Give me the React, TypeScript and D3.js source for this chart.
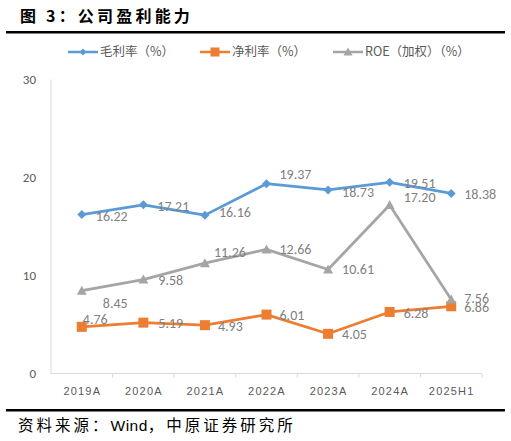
import React from "react";
import * as d3 from "d3";

const categories = ["2019A", "2020A", "2021A", "2022A", "2023A", "2024A", "2025H1"];
const grossMargin = [16.22, 17.21, 16.16, 19.37, 18.73, 19.51, 18.38];
const netMargin = [4.76, 5.19, 4.93, 6.01, 4.05, 6.28, 6.86];
const roe = [8.45, 9.58, 11.26, 12.66, 10.61, 17.2, 7.56];
const yTicks = [0, 10, 20, 30];
const seriesNames = ["毛利率（%）", "净利率（%）", "ROE（加权）（%）"];

// label placement offsets (layout only)
const grossOff = [[14, 1.5], [14, 1], [14, -3], [13, -10], [14, 2], [14, 1], [13, 1]];
const netOff = [[1, -8], [15, 0], [13, 1], [13, 0], [14, 0], [14, 1], [13, 1]];
const roeOff = [[21, 12], [15, 0], [9, -11], [13, 0], [14, 0], [14, -8], [13, -1]];

const W = 511;
const H = 441;

export default function App() {
  const x = d3.scaleBand().domain(categories).range([51, 482]);
  const y = d3.scaleLinear().domain([0, 30]).range([373.5, 79.5]);
  const cx = (c: string) => (x(c) as number) + x.bandwidth() / 2;
  const line = d3
    .line<number>()
    .x((_, i) => cx(categories[i]))
    .y((d) => y(d));

  const labelFont = "Carlito, 'Liberation Sans Narrow', 'Open Sans', sans-serif";
  const labelColor = "#808080";

  const diamond = (px: number, py: number, r = 4.5) =>
    `M${px},${py - r}L${px + r},${py}L${px},${py + r}L${px - r},${py}Z`;
  const square = (px: number, py: number, r = 5) =>
    `M${px - r},${py - r}H${px + r}V${py + r}H${px - r}Z`;
  const triangle = (px: number, py: number, r = 5) =>
    `M${px},${py - r}L${px + r},${py + r * 0.8}L${px - r},${py + r * 0.8}Z`;

  const series = [
    { vals: grossMargin, color: "#5B9BD5", marker: diamond, off: grossOff },
    { vals: netMargin, color: "#ED7D31", marker: square, off: netOff },
    { vals: roe, color: "#A5A5A5", marker: triangle, off: roeOff },
  ];

  const legendX = [68, 200, 333];
  const legendY = 52;

  return (
    <svg
      width={W}
      height={H}
      style={{ position: "absolute", left: 0, top: 0, background: "#fff" }}
    >
      {/* title */}
      <text
        x={20}
        y={22}
        fontSize={16}
        fontWeight="bold"
        fontFamily="'Noto Sans CJK SC', sans-serif"
        letterSpacing={3.2}
        fill="#000"
      >
        图 3：公司盈利能力
      </text>
      <rect x={6} y={31} width={499} height={2.5} fill="#000" />

      {/* legend */}
      {series.map((s, i) => (
        <g key={i}>
          <line
            x1={legendX[i]}
            x2={legendX[i] + 30}
            y1={legendY}
            y2={legendY}
            stroke={s.color}
            strokeWidth={2.5}
          />
          <path
            d={
              i === 0
                ? diamond(legendX[i] + 15, legendY, 3.5)
                : i === 1
                ? square(legendX[i] + 15, legendY, 4.5)
                : triangle(legendX[i] + 15, legendY, 4.5)
            }
            fill={s.color}
          />
          <text
            x={legendX[i] + 32}
            y={legendY}
            dy="0.35em"
            fontSize={12.5}
            fontFamily="'Noto Sans CJK SC', sans-serif"
            fill="#595959"
          >
            {seriesNames[i]}
          </text>
        </g>
      ))}

      {/* axes */}
      <line x1={51} x2={51} y1={y(30)} y2={y(0)} stroke="#d9d9d9" strokeWidth={1} />
      <line x1={51} x2={482} y1={y(0)} y2={y(0)} stroke="#d9d9d9" strokeWidth={1} />
      {categories.map((c) => (
        <line
          key={c}
          x1={(x(c) as number) + x.bandwidth()}
          x2={(x(c) as number) + x.bandwidth()}
          y1={y(0)}
          y2={y(0) + 4}
          stroke="#d9d9d9"
        />
      ))}
      {yTicks.map((t) => (
        <text
          key={t}
          x={36}
          y={y(t)}
          dy="0.35em"
          textAnchor="end"
          fontSize={13}
          fontFamily={labelFont}
          fill="#595959"
        >
          {t}
        </text>
      ))}
      {categories.map((c) => (
        <text
          key={c}
          x={cx(c) + 0.5}
          y={391}
          dy="0.35em"
          textAnchor="middle"
          fontSize={11}
          letterSpacing={1.2}
          fontFamily="'Liberation Sans', Arial, sans-serif"
          fill="#595959"
        >
          {c}
        </text>
      ))}

      {/* series */}
      {series.map((s, si) => (
        <g key={si}>
          <path
            d={line(s.vals) as string}
            fill="none"
            stroke={s.color}
            strokeWidth={2.75}
            strokeLinejoin="round"
          />
          {s.vals.map((v, i) => (
            <path key={i} d={s.marker(cx(categories[i]), y(v))} fill={s.color} />
          ))}
        </g>
      ))}
      {series.map((s, si) => (
        <g key={"l" + si}>
          {s.vals.map((v, i) => (
            <text
              key={i}
              x={cx(categories[i]) + s.off[i][0]}
              y={y(v) + s.off[i][1]}
              dy="0.35em"
              fontSize={14}
              fontFamily={labelFont}
              fill={labelColor}
            >
              {v.toFixed(2)}
            </text>
          ))}
        </g>
      ))}

      {/* footer */}
      <rect x={6} y={409} width={499} height={2.5} fill="#000" />
      <text
        x={18}
        y={431}
        fontSize={15.5}
        fontFamily="'Noto Sans CJK SC', sans-serif"
        letterSpacing={3}
        fill="#000"
      >
        资料来源：<tspan fontFamily="'Liberation Sans', Arial, sans-serif" letterSpacing={0.5}>Wind</tspan>，中原证券研究所
      </text>
    </svg>
  );
}
